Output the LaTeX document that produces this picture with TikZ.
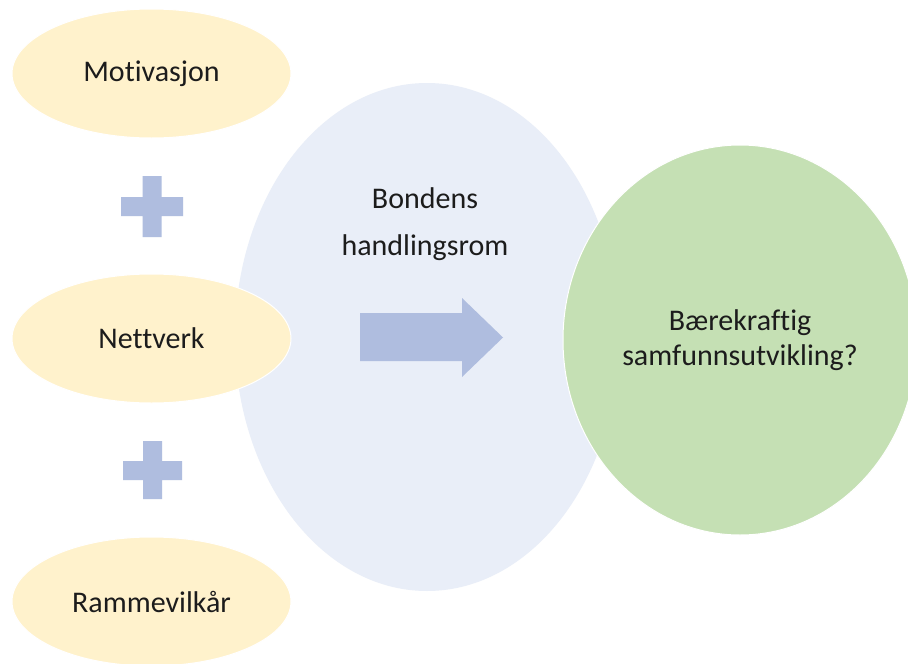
\documentclass[tikz,border=0pt]{standalone}
\usepackage{fontspec}
\setmainfont{Carlito}[Ligatures=NoCommon]
\usetikzlibrary{shapes.geometric}
\definecolor{ylw}{HTML}{FFF2CC}
\definecolor{lblue}{HTML}{E9EEF8}
\definecolor{mblue}{HTML}{AFBDDF}
\definecolor{lgreen}{HTML}{C5E0B4}
\definecolor{txt}{HTML}{1C1C1C}
\tikzset{
  factor/.style={ellipse, fill=ylw, draw=white, line width=1pt, minimum width=279pt, minimum height=129pt, inner sep=0pt, text=txt, font=\fontsize{30}{36}\selectfont},
  space/.style={ellipse, fill=lblue, minimum width=384pt, minimum height=508pt, inner sep=0pt},
  goal/.style={ellipse, fill=lgreen, draw=white, line width=1pt, minimum width=354pt, minimum height=390pt, inner sep=0pt, text=txt, align=center, font=\fontsize{30}{35}\selectfont},
  label/.style={text=txt, align=center, font=\fontsize{30}{47}\selectfont},
  shapefill/.style={fill=mblue}
}
\begin{document}
\begin{tikzpicture}[x=1pt, y=-1pt]
\useasboundingbox (0,0) rectangle (908,664);
\fill[white] (0,0) rectangle (908,664);
% big space ellipse
\node[space] (rom) at (427,337) {};
% goal
\node[goal] (maal) at (740,340) {Bærekraftig\\samfunnsutvikling?};
% factors
\node[factor] (mot) at (151.5,73.5) {Motivasjon};
\node[factor] (nett) at (151.5,338.5) {Nettverk};
\node[factor] (ramme) at (151.5,601.5) {Rammevilkår};
% label
\node[label] (bondens) at (425,224) {Bondens\\handlingsrom};
% plus signs
\fill[shapefill] (142.5,176) -- (161.5,176) -- (161.5,197) -- (183,197) -- (183,216) -- (161.5,216) -- (161.5,237) -- (142.5,237) -- (142.5,216) -- (121,216) -- (121,197) -- (142.5,197) -- cycle;
\fill[shapefill] (143,441) -- (162,441) -- (162,461) -- (182,461) -- (182,480) -- (162,480) -- (162,499) -- (143,499) -- (143,480) -- (123,480) -- (123,461) -- (143,461) -- cycle;
% arrow
\fill[shapefill] (360,313) -- (462,313) -- (462,298) -- (503,337.5) -- (462,377) -- (462,361) -- (360,361) -- cycle;
\end{tikzpicture}
\end{document}
